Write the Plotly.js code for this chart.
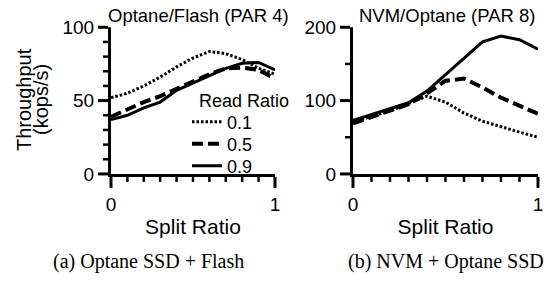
<!DOCTYPE html>
<html><head><meta charset="utf-8">
<script src="https://cdn.plot.ly/plotly-3.0.1.min.js"></script>
<style>
html,body{margin:0;padding:0;background:#fff;}
#chart{width:547px;height:281px;}
#chart .crisp{shape-rendering:geometricPrecision !important;}
</style>
</head><body><div id="chart"></div>
<script>
const splitRatio = [0, 0.1, 0.2, 0.3, 0.4, 0.5, 0.6, 0.7, 0.8, 0.9, 1.0];
const readRatioLabels = ['0.1', '0.5', '0.9'];
const optaneFlash01 = [52, 55, 60, 66, 73, 79, 83.5, 82, 78, 72, 68];
const optaneFlash05 = [39, 44, 49, 53, 58, 63, 68, 72, 72.5, 71, 65];
const optaneFlash09 = [37, 40, 45, 49, 57, 62, 67, 72, 75.5, 76, 71];
const nvmOptane01 = [71, 78, 86, 96, 106, 98, 83, 72, 64, 57, 50];
const nvmOptane05 = [69, 78, 86, 95, 110, 127, 130, 118, 104, 93, 82];
const nvmOptane09 = [73, 81, 88, 97, 113, 135, 158, 180, 188, 183, 170];
const panelTitles = ['Optane/Flash (PAR 4)', 'NVM/Optane (PAR 8)'];
const captions = ['(a) Optane SSD + Flash', '(b) NVM + Optane SSD'];
const legendTitle = 'Read Ratio';

const styles = [
  {dash: '2.5px,2px', width: 3},
  {dash: '11px,5px', width: 4},
  {dash: 'solid', width: 3}
];
const legendIds = ['legend', 'legend2', 'legend3'];
const leftSeries = [optaneFlash01, optaneFlash05, optaneFlash09];
const rightSeries = [nvmOptane01, nvmOptane05, nvmOptane09];

const traces = [];
leftSeries.forEach((ys, i) => traces.push({
  x: splitRatio, y: ys, type: 'scatter', mode: 'lines', name: readRatioLabels[i],
  line: {color: 'black', dash: styles[i].dash, width: styles[i].width},
  xaxis: 'x', yaxis: 'y', legend: legendIds[i]
}));
rightSeries.forEach((ys, i) => traces.push({
  x: splitRatio, y: ys, type: 'scatter', mode: 'lines', name: readRatioLabels[i],
  line: {color: 'black', dash: styles[i].dash, width: styles[i].width},
  xaxis: 'x2', yaxis: 'y2', showlegend: false
}));

const F = 'Liberation Sans, Arial, Helvetica, sans-serif';
const tickFont = {family: F, size: 19, color: 'black'};

function xAxis(domain, anchor) {
  return {
    domain: domain, anchor: anchor, range: [0, 1], dtick: 1,
    showline: true, linecolor: 'black', linewidth: 3, ticks: 'outside', ticklen: 11, tickwidth: 3,
    tickcolor: 'black', showgrid: false, zeroline: false, tickfont: tickFont,
    minor: {dtick: 0.1, ticks: 'outside', ticklen: 5, tickwidth: 2.5, tickcolor: 'black'},
    title: {text: 'Split Ratio', font: {family: F, size: 21, color: 'black'}, standoff: 6}
  };
}
function yAxis(range, step, minorStep, anchor) {
  return {
    domain: [0.381, 0.903], anchor: anchor, range: range, dtick: step,
    showline: true, linecolor: 'black', linewidth: 3, ticks: 'outside', ticklen: 10, tickwidth: 3,
    tickcolor: 'black', showgrid: false, zeroline: false, tickfont: tickFont,
    minor: {dtick: minorStep, ticks: 'outside', ticklen: 5, tickwidth: 2.5, tickcolor: 'black'}
  };
}

function legendAt(yc) {
  return {
    x: 187 / 547, y: 1 - yc / 281, xanchor: 'left', yanchor: 'middle', bgcolor: 'rgba(0,0,0,0)',
    font: {family: F, size: 18, color: 'black'}, borderwidth: 0
  };
}

const layout = {
  width: 547, height: 281, margin: {l: 0, r: 0, t: 0, b: 0},
  paper_bgcolor: 'white', plot_bgcolor: 'white', showlegend: true,
  xaxis: xAxis([0.2029, 0.5027], 'y'),
  yaxis: yAxis([0, 100], 50, 10, 'x'),
  xaxis2: xAxis([0.6453, 0.9835], 'y2'),
  yaxis2: yAxis([0, 200], 100, 50, 'x2'),
  legend: legendAt(122),
  legend2: legendAt(144),
  legend3: legendAt(166),
  annotations: [
    {text: panelTitles[0], x: 198 / 547, y: 1 - 15 / 281, xref: 'paper', yref: 'paper', showarrow: false,
     xanchor: 'center', yanchor: 'middle', font: {family: F, size: 18.5, color: 'black'}},
    {text: panelTitles[1], x: 447 / 547, y: 1 - 15 / 281, xref: 'paper', yref: 'paper', showarrow: false,
     xanchor: 'center', yanchor: 'middle', font: {family: F, size: 18.5, color: 'black'}},
    {text: legendTitle, x: 197 / 547, y: 1 - 101 / 281, xref: 'paper', yref: 'paper', showarrow: false,
     xanchor: 'left', yanchor: 'middle', font: {family: F, size: 18, color: 'black'}},
    {text: 'Throughput', x: 24 / 547, y: 1 - 100 / 281, xref: 'paper', yref: 'paper', showarrow: false,
     textangle: -90, xanchor: 'center', yanchor: 'middle', font: {family: F, size: 20, color: 'black'}},
    {text: '(kops/s)', x: 41 / 547, y: 1 - 100 / 281, xref: 'paper', yref: 'paper', showarrow: false,
     textangle: -90, xanchor: 'center', yanchor: 'middle', font: {family: F, size: 20, color: 'black'}},
    {text: captions[0], x: 148 / 547, y: 1 - 261 / 281, xref: 'paper', yref: 'paper', showarrow: false,
     xanchor: 'center', yanchor: 'middle', font: {family: 'Liberation Serif, Times New Roman, serif', size: 20, color: 'black'}},
    {text: captions[1], x: 446 / 547, y: 1 - 261 / 281, xref: 'paper', yref: 'paper', showarrow: false,
     xanchor: 'center', yanchor: 'middle', font: {family: 'Liberation Serif, Times New Roman, serif', size: 20, color: 'black'}}
  ]
};

Plotly.newPlot('chart', traces, layout, {displayModeBar: false, staticPlot: true});
</script>
</body></html>
